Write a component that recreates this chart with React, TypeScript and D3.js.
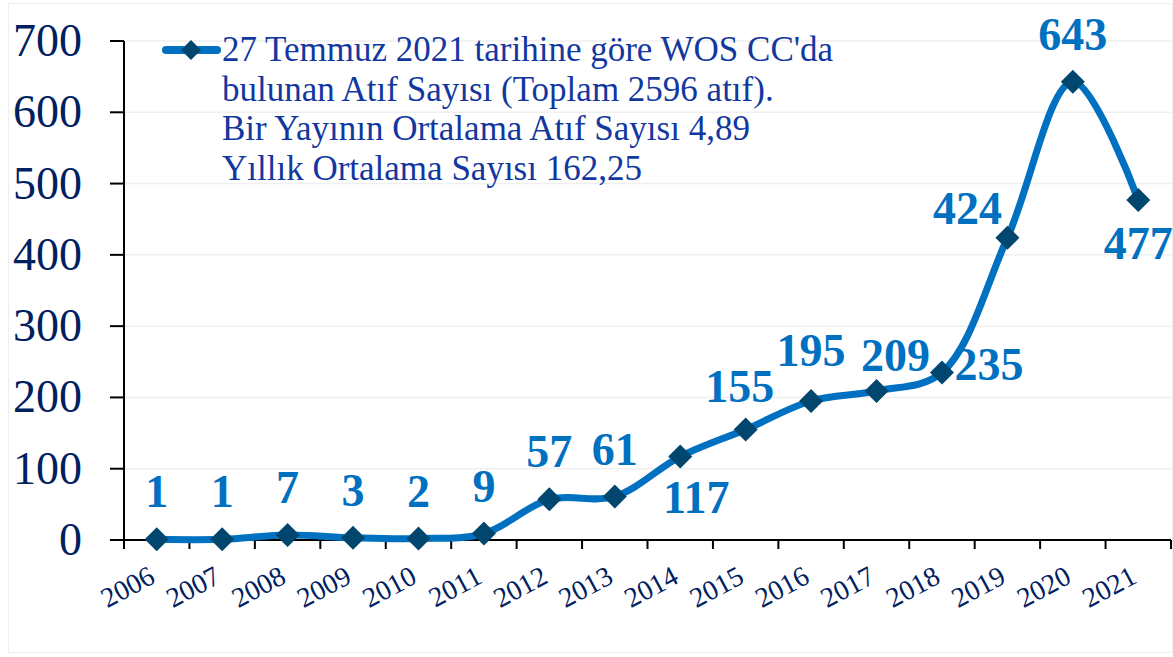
import React from "react";
import * as d3 from "d3";

const years = ["2006","2007","2008","2009","2010","2011","2012","2013","2014","2015","2016","2017","2018","2019","2020","2021"];
const citations = [1,1,7,3,2,9,57,61,117,155,195,209,235,424,643,477];
const labelPlacement = ["above","above","above","above","above","above","above","above","below","above","above","above","right","left","above","below"];
const labelNudgeX = [0,0,0,0,0,0,0,0,16,-6,0,19,0,0,0,0];
const labelNudgeY = [0,0,0,0,0,0,0,0,0,4,-3,12,0,0,0,3];
const yTicks = [0,100,200,300,400,500,600,700];
const legendLines = [
  "27 Temmuz 2021 tarihine göre WOS CC'da",
  "bulunan Atıf Sayısı (Toplam 2596 atıf).",
  "Bir Yayının Ortalama Atıf Sayısı 4,89",
  "Yıllık Ortalama Sayısı 162,25",
];

const W = 1173, H = 657;
const left = 124, right = 1171, top = 41, bottom = 540;
const serif = "'Liberation Serif', 'Times New Roman', serif";
const LINE = "#0070C0";
const MARK = "#00466E";
const NAVY = "#002060";

function diamond(cx: number, cy: number, r: number) {
  return `M${cx},${cy - r}L${cx + r},${cy}L${cx},${cy + r}L${cx - r},${cy}Z`;
}

export default function App() {
  const x = d3.scaleBand<string>().domain(years).range([left, right]);
  const y = d3.scaleLinear().domain([0, 700]).range([bottom, top]);
  const cx = (i: number) => (x(years[i]) as number) + x.bandwidth() / 2;
  const pts: [number, number][] = citations.map((v, i) => [cx(i), y(v)]);
  const line = d3.line().curve(d3.curveCatmullRom.alpha(0.5))(pts) as string;
  const boundaries = years.map((yr) => x(yr) as number).concat([right]);

  const labelPos = (i: number) => {
    const [px, py] = pts[i];
    const p = labelPlacement[i];
    let lx = px, ly = py - 32;
    if (p === "below") { lx = px; ly = py + 56; }
    if (p === "right") { lx = px + 47; ly = py + 8; }
    if (p === "left") { lx = px - 40; ly = py - 14; }
    return [lx + labelNudgeX[i], ly + labelNudgeY[i]];
  };

  return (
    <svg width={W} height={H} style={{ position: "absolute", left: 0, top: 0, background: "#fff" }}>
      <rect x={8.5} y={3.5} width={W - 9} height={H - 8} fill="none" stroke="#eeeeee" />
      {yTicks.map((t) => (
        <line key={t} x1={left} x2={right} y1={y(t)} y2={y(t)} stroke="#efefef" strokeWidth={1.5} />
      ))}
      {/* y axis */}
      <line x1={left} x2={left} y1={top} y2={bottom + 4} stroke="#000" strokeWidth={2} />
      {yTicks.map((t) => (
        <g key={t}>
          <line x1={left - 14} x2={left} y1={y(t)} y2={y(t)} stroke="#000" strokeWidth={2} />
          <text x={82} y={y(t) + 15} textAnchor="end" style={{ fontFamily: serif }} fontSize={46} fill={NAVY}>
            {t}
          </text>
        </g>
      ))}
      {/* x axis */}
      <line x1={left} x2={right} y1={bottom} y2={bottom} stroke="#000" strokeWidth={2} />
      {boundaries.map((b, i) => (
        <line key={i} x1={b} x2={b} y1={bottom} y2={bottom + 9} stroke="#000" strokeWidth={2} />
      ))}
      {years.map((yr, i) => (
        <text
          key={yr}
          transform={`translate(${cx(i)},${bottom + 42}) rotate(-28)`}
          textAnchor="end"
          style={{ fontFamily: serif }}
          fontSize={28}
          fill={NAVY}
        >
          {yr}
        </text>
      ))}
      {/* series */}
      <path d={line} fill="none" stroke={LINE} strokeWidth={7} strokeLinejoin="round" />
      {pts.map(([px, py], i) => (
        <path key={i} d={diamond(px, py, 12)} fill={MARK} />
      ))}
      {citations.map((v, i) => {
        const [lx, ly] = labelPos(i);
        return (
          <text key={i} x={lx} y={ly} textAnchor="middle" style={{ fontFamily: serif }} fontWeight="bold" fontSize={46} fill={LINE}>
            {v}
          </text>
        );
      })}
      {/* legend */}
      <line x1={166} x2={217} y1={50} y2={50} stroke={LINE} strokeWidth={8} strokeLinecap="round" />
      <path d={diamond(191, 50, 10)} fill={MARK} />
      {legendLines.map((l, i) => (
        <text key={i} x={222} y={61 + i * 39.5} style={{ fontFamily: serif }} fontSize={35} fill="#1238A0">
          {l}
        </text>
      ))}
    </svg>
  );
}
